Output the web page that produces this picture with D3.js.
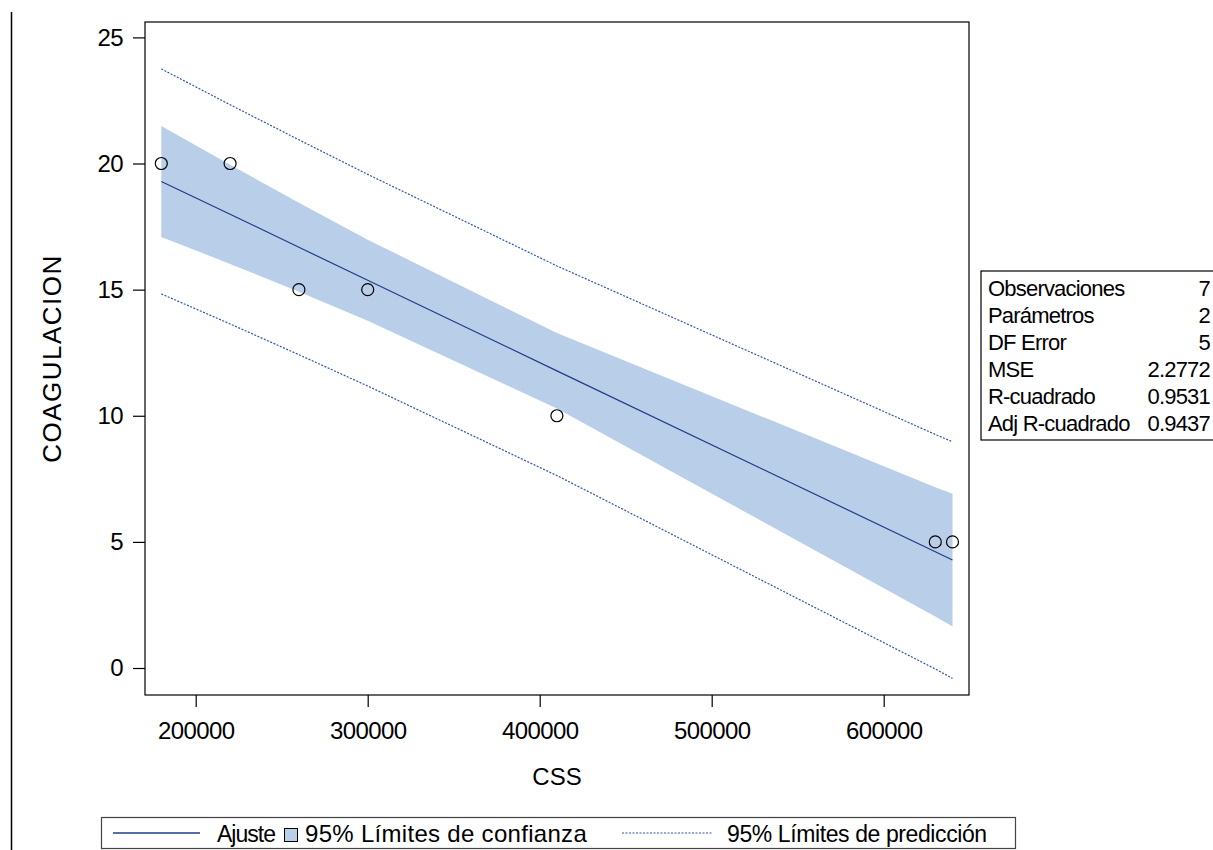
<!DOCTYPE html>
<html>
<head>
<meta charset="utf-8">
<script src="https://cdn.jsdelivr.net/npm/d3@7"></script>
<style>
  body { margin: 0; background: #fff; }
  svg { display: block; font-family: "Liberation Sans", Arial, sans-serif; }
</style>
</head>
<body>
<svg width="1213" height="850"></svg>
<script>
  // datos observados
  const cssValues = [180000, 220000, 260000, 300000, 410000, 630000, 640000];
  const coagValues = [20, 20, 15, 15, 10, 5, 5];
  // ajuste y limites al 95% en cada CSS observado
  const fitValues = [19.29, 17.99, 16.68, 15.37, 11.78, 4.61, 4.28];
  const lowerConf = [17.09, 16.02, 14.92, 13.77, 10.29, 2.04, 1.65];
  const upperConf = [21.49, 19.95, 18.44, 16.98, 13.28, 7.17, 6.91];
  const lowerPred = [14.83, 13.64, 12.42, 11.18, 7.63, -0.04, -0.41];
  const upperPred = [23.75, 22.33, 20.94, 19.57, 15.94, 9.26, 8.97];

  const xTicks = [200000, 300000, 400000, 500000, 600000];
  const yTicks = [0, 5, 10, 15, 20, 25];

  const statLabels = ["Observaciones", "Parámetros", "DF Error", "MSE", "R-cuadrado", "Adj R-cuadrado"];
  const statValues = ["7", "2", "5", "2.2772", "0.9531", "0.9437"];

  const legendLabels = ["Ajuste", "95% Límites de confianza", "95% Límites de predicción"];

  const fitColor = "#1f3c88";
  const bandColor = "#b9cee8";
  const predColor = "#2f55a8";

  const svg = d3.select("svg");

  // area del grafico
  const pLeft = 145, pRight = 969, pTop = 22, pBottom = 695;

  const x = d3.scaleLinear().domain([170520, 649600]).range([pLeft, pRight]);
  const y = d3.scaleLinear().domain([-1.07, 25.61]).range([pBottom, pTop]);

  const rows = cssValues.map((c, i) => ({
    css: c, coag: coagValues[i], fit: fitValues[i],
    lc: lowerConf[i], uc: upperConf[i], lp: lowerPred[i], up: upperPred[i]
  }));

  // linea vertical a la izquierda
  svg.append("line")
    .attr("x1", 11.5).attr("x2", 11.5)
    .attr("y1", 12).attr("y2", 850)
    .attr("stroke", "#000").attr("stroke-width", 1.5);

  // banda de confianza
  svg.append("path")
    .datum(rows)
    .attr("fill", bandColor)
    .attr("d", d3.area()
      .x(d => x(d.css))
      .y0(d => y(d.lc))
      .y1(d => y(d.uc)));

  // limites de prediccion
  ["lp", "up"].forEach(k => {
    svg.append("path")
      .datum(rows)
      .attr("fill", "none")
      .attr("stroke", predColor)
      .attr("stroke-width", 1.2)
      .attr("stroke-dasharray", "2,1.5")
      .attr("d", d3.line().x(d => x(d.css)).y(d => y(d[k])));
  });

  // recta ajustada
  svg.append("path")
    .datum(rows)
    .attr("fill", "none")
    .attr("stroke", fitColor)
    .attr("stroke-width", 1.2)
    .attr("d", d3.line().x(d => x(d.css)).y(d => y(d.fit)));

  // observaciones
  svg.selectAll("circle.obs")
    .data(rows)
    .join("circle")
    .attr("class", "obs")
    .attr("cx", d => x(d.css))
    .attr("cy", d => y(d.coag))
    .attr("r", 6)
    .attr("fill", "none")
    .attr("stroke", "#000")
    .attr("stroke-width", 1.2);

  // marco
  svg.append("rect")
    .attr("x", pLeft).attr("y", pTop)
    .attr("width", pRight - pLeft).attr("height", pBottom - pTop)
    .attr("fill", "none").attr("stroke", "#000").attr("stroke-width", 1.2);

  // ejes
  const yAxis = svg.append("g")
    .attr("transform", `translate(${pLeft},0)`)
    .call(d3.axisLeft(y).tickValues(yTicks).tickSize(12).tickPadding(10).tickFormat(d3.format("d")));
  const xAxis = svg.append("g")
    .attr("transform", `translate(0,${pBottom})`)
    .call(d3.axisBottom(x).tickValues(xTicks).tickSize(12).tickPadding(15).tickFormat(d3.format("d")));
  [xAxis, yAxis].forEach(g => {
    g.select(".domain").remove();
    g.selectAll("line").attr("stroke", "#000").attr("stroke-width", 1.2);
    g.selectAll("text")
      .attr("fill", "#000")
      .style("font-size", "24px")
      .style("letter-spacing", "-0.6px")
      .style("font-family", "'Liberation Sans', Arial, sans-serif");
  });

  // titulos de ejes
  svg.append("text")
    .attr("x", (pLeft + pRight) / 2).attr("y", 785)
    .attr("text-anchor", "middle")
    .style("font-size", "24px")
    .text("CSS");
  svg.append("text")
    .attr("transform", `translate(61,${(pTop + pBottom) / 2}) rotate(-90)`)
    .attr("text-anchor", "middle")
    .style("font-size", "26px")
    .style("letter-spacing", "1.5px")
    .text("COAGULACION");

  // tabla de estadisticos
  const tbl = svg.append("g");
  const rowH = 27;
  const firstBase = 296;
  tbl.append("rect")
    .attr("x", 981).attr("y", 271)
    .attr("width", 240).attr("height", firstBase - 271 + rowH * (statLabels.length - 1) + 9)
    .attr("fill", "#fff").attr("stroke", "#000").attr("stroke-width", 1.2);
  statLabels.forEach((s, i) => {
    tbl.append("text")
      .attr("x", 988).attr("y", firstBase + i * rowH)
      .style("font-size", "22px").style("letter-spacing", "-0.8px")
      .text(s);
    tbl.append("text")
      .attr("x", 1210).attr("y", firstBase + i * rowH)
      .attr("text-anchor", "end")
      .style("font-size", "22px").style("letter-spacing", "-0.8px")
      .text(statValues[i]);
  });

  // leyenda
  const lg = svg.append("g");
  lg.append("rect")
    .attr("x", 101.5).attr("y", 817.5)
    .attr("width", 914).attr("height", 31)
    .attr("fill", "#fff").attr("stroke", "#444").attr("stroke-width", 1.2);
  const ly = 833;
  lg.append("line")
    .attr("x1", 113).attr("x2", 200).attr("y1", ly).attr("y2", ly)
    .attr("stroke", fitColor).attr("stroke-width", 1.3);
  lg.append("text").attr("x", 217).attr("y", ly + 8.5)
    .style("font-size", "23px").style("letter-spacing", "-1px").text(legendLabels[0]);
  lg.append("rect")
    .attr("x", 284.5).attr("y", 828.5).attr("width", 13).attr("height", 13)
    .attr("fill", bandColor).attr("stroke", "#000").attr("stroke-width", 1);
  lg.append("text").attr("x", 305).attr("y", ly + 8.5)
    .style("font-size", "24px").style("letter-spacing", "0.3px").text(legendLabels[1]);
  lg.append("line")
    .attr("x1", 622).attr("x2", 712).attr("y1", ly).attr("y2", ly)
    .attr("stroke", predColor).attr("stroke-width", 1.2)
    .attr("stroke-dasharray", "2,1.5");
  lg.append("text").attr("x", 727).attr("y", ly + 8.5)
    .style("font-size", "23px").style("letter-spacing", "-0.4px").text(legendLabels[2]);
</script>
</body>
</html>
